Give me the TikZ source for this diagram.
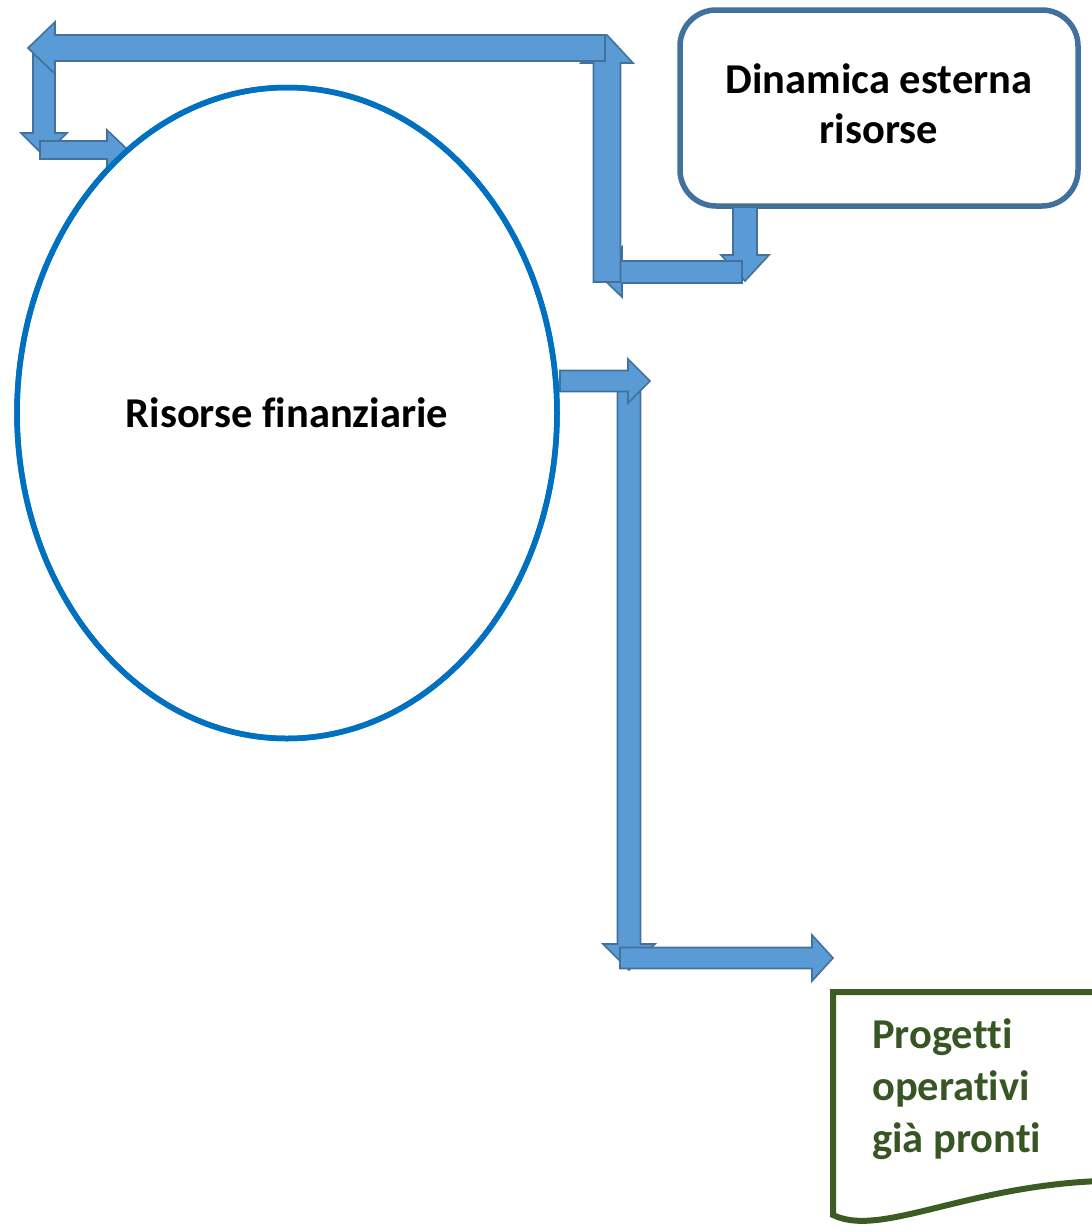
\documentclass[tikz,border=0pt]{standalone}
\usepackage{fontspec}
\setmainfont[Ligatures=NoCommon]{Carlito}
\usetikzlibrary{calc,shapes.geometric}

\definecolor{arrowfill}{HTML}{5B9BD5}
\definecolor{arrowline}{HTML}{41719C}
\definecolor{ellipseline}{HTML}{0070C0}
\definecolor{boxline}{HTML}{41719C}
\definecolor{docline}{HTML}{3D5C24}
\definecolor{doctext}{HTML}{375623}

\tikzset{
  barrow/.style={fill=arrowfill, draw=arrowline, line width=1.6pt, line join=miter},
  label/.style={font=\bfseries\fontsize{42.5}{50}\selectfont, text=black, align=center},
}

% block arrow: #1 tail, #2 tip, #3 half shaft width, #4 half head width, #5 head length
\newcommand{\blockarr}[5]{%
  \coordinate (hb) at ($(#2)!#5!(#1)$);
  \draw[barrow] ($(#1)!#3!90:(#2)$) -- ($(hb)!#3!90:(#2)$) -- ($(hb)!#4!90:(#2)$)
    -- (#2) -- ($(hb)!#4!-90:(#2)$) -- ($(hb)!#3!-90:(#2)$) -- ($(#1)!#3!-90:(#2)$) -- cycle;}

\begin{document}
\begin{tikzpicture}[x=1pt, y=-1pt]
  \useasboundingbox (0,0) rectangle (1092,1232);
  \clip (0,0) rectangle (1092,1232);

  % main shapes
  \node[ellipse, draw=ellipseline, line width=5.5pt, minimum width=540pt, minimum height=651pt,
        inner sep=0pt, label] (fin) at (287,413) {Risorse finanziarie};
  \node[rectangle, rounded corners=36pt, draw=boxline, line width=5.5pt, minimum width=398pt,
        minimum height=196pt, inner sep=0pt, text depth=8pt, label] (ext) at (879,108)
        {Dinamica esterna\\risorse};

  % document shape with wavy bottom
  \draw[docline, line width=6pt, fill=white]
    (1120,992) -- (833,992) -- (833,1215)
    .. controls (880,1238) and (965,1186) .. (1100,1181);
  \node[anchor=base west, inner sep=0pt, align=left, text=doctext,
        font=\bfseries\fontsize{42.5}{52}\selectfont] (proj) at (872,1152)
        {Progetti\\operativi\\già pronti};

  % loop between the two upper shapes
  \coordinate (a6t) at (745,207);  \coordinate (a6h) at (745,281);
  \coordinate (a5t) at (742,272);  \coordinate (a5h) at (596,272);
  \coordinate (a4t) at (607,282);  \coordinate (a4h) at (607,35);
  \coordinate (a2t) at (44,52);    \coordinate (a2h) at (44,156);
  \coordinate (a1t) at (605,48);   \coordinate (a1h) at (28,48);
  \coordinate (a3t) at (40,150);   \coordinate (a3h) at (128,150);
  \blockarr{a6t}{a6h}{12pt}{24pt}{26pt}
  \blockarr{a5t}{a5h}{11pt}{25pt}{26pt}
  \blockarr{a4t}{a4h}{13.5pt}{26pt}{28pt}
  \blockarr{a2t}{a2h}{11pt}{23pt}{23pt}
  \blockarr{a1t}{a1h}{13pt}{26pt}{27pt}
  \blockarr{a3t}{a3h}{9pt}{20pt}{21pt}

  % path towards the projects
  \coordinate (a8t) at (629,385);  \coordinate (a8h) at (629,970);
  \coordinate (a7t) at (560,381);  \coordinate (a7h) at (650,381);
  \coordinate (a9t) at (620,958);  \coordinate (a9h) at (833,958);
  \blockarr{a8t}{a8h}{11.5pt}{26pt}{26pt}
  \blockarr{a7t}{a7h}{10.5pt}{22pt}{22pt}
  \blockarr{a9t}{a9h}{10.5pt}{23pt}{21pt}

  % ellipse outline on top of the small arrow tip
  \draw[ellipseline, line width=5.5pt] (fin.center) ellipse [x radius=270pt, y radius=325.5pt];
\end{tikzpicture}
\end{document}
